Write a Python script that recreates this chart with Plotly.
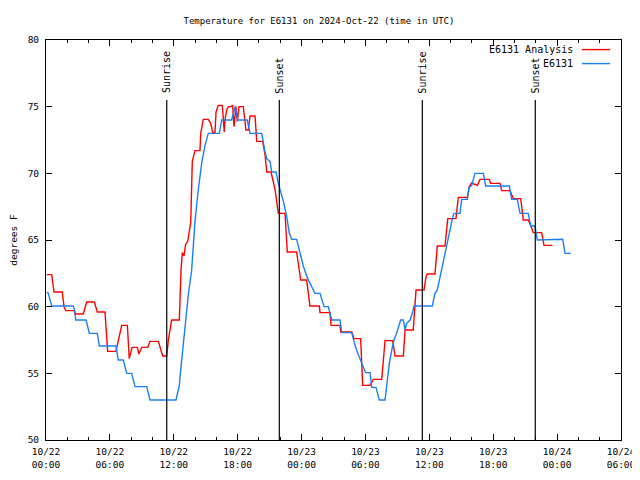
import pandas as pd
import plotly.graph_objects as go

# ---------------- data ----------------
base_time = "2024-10-22 00:00"

# Hours after base_time, and temperature (deg F)
analysis_hours = [0.07, 0.54, 0.75, 1.53, 1.69, 1.85, 2.66, 2.72, 3.50, 3.82, 4.54, 4.82, 5.54, 5.79, 6.57,
                  7.11, 7.64, 7.82, 8.08, 8.57, 8.73, 8.99, 9.55, 9.77, 10.55, 10.96, 11.34, 11.49, 11.80,
                  12.52, 12.68, 12.80, 12.96, 13.12, 13.31, 13.59, 13.74, 13.83, 13.99, 14.46, 14.53, 14.77,
                  15.24, 15.47, 15.66, 15.87, 15.97, 16.18, 16.56, 16.74, 16.81, 16.97, 17.12, 17.37, 17.53,
                  17.66, 17.75, 17.84, 17.97, 18.13, 18.53, 18.69, 18.78, 19.00, 19.16, 19.63, 19.79, 20.35,
                  20.57, 20.73, 21.13, 21.51, 21.72, 21.82, 22.45, 22.66, 23.54, 23.69, 23.92, 24.48, 24.63,
                  24.79, 25.67, 25.73, 26.67, 26.77, 27.61, 27.68, 28.71, 28.93, 29.55, 29.74, 30.43, 30.74,
                  31.53, 31.68, 31.84, 32.56, 32.78, 33.56, 33.72, 34.49, 34.75, 35.50, 35.69, 35.81, 36.53,
                  36.75, 37.47, 37.73, 38.50, 38.72, 39.57, 39.75, 39.98, 40.19, 40.51, 40.76, 41.63, 41.76,
                  42.64, 42.80, 43.58, 43.89, 44.58, 44.83, 45.29, 45.52, 45.76, 46.55, 46.77, 47.55]
analysis_temp = [62.4, 62.4, 61.1, 61.1, 60.0, 59.7, 59.7, 59.45, 59.45, 60.35, 60.35, 59.6, 59.6, 56.65, 56.65,
                 58.6, 58.6, 56.1, 56.95, 56.95, 56.45, 56.95, 56.95, 57.4, 57.4, 56.3, 56.3, 57.5, 59.0,
                 59.0, 62.75, 64.05, 63.8, 64.7, 64.9, 66.3, 70.9, 71.25, 71.7, 71.7, 73.0, 74.05,
                 74.05, 73.75, 73.05, 73.05, 74.6, 75.1, 75.1, 73.1, 74.0, 74.75, 75.0, 75.0, 75.1,
                 73.5, 74.1, 75.0, 73.9, 75.0, 75.0, 73.9, 73.25, 73.25, 74.3, 74.3, 72.4, 72.4,
                 71.4, 70.1, 70.1, 68.8, 67.6, 67.0, 67.0, 64.1, 64.1, 63.1, 62.0, 62.0, 61.0,
                 60.05, 60.05, 59.55, 59.55, 58.6, 58.6, 58.1, 58.1, 57.6, 57.6, 54.1, 54.1, 54.55,
                 54.55, 56.25, 57.45, 57.45, 56.3, 56.3, 58.25, 58.25, 61.25, 61.25, 62.25, 62.45, 62.45,
                 64.55, 64.55, 66.6, 66.6, 68.2, 68.2, 69.0, 69.3, 69.2, 69.1, 69.55, 69.55, 69.25,
                 69.25, 68.7, 68.7, 68.1, 68.1, 66.5, 66.5, 66.1, 65.55, 65.55, 64.6, 64.6]

station_hours = [0.07, 0.19, 0.54, 2.56, 2.70, 2.79, 3.76, 4.07, 4.82, 5.01, 6.57, 6.79, 7.26, 7.58, 8.05,
                 8.36, 9.46, 9.77, 12.21, 12.52, 12.68, 13.06, 13.38, 13.68, 13.99, 14.30, 14.62, 14.93,
                 15.24, 16.28, 16.50, 17.44, 17.75, 18.00, 18.90, 19.16, 20.26, 20.57, 20.73, 21.04, 21.20,
                 21.60, 21.82, 22.29, 22.61, 22.85, 23.07, 23.54, 23.85, 24.16, 24.58, 24.95, 25.26, 25.73,
                 26.11, 26.51, 26.83, 27.61, 27.77, 28.71, 29.02, 29.33, 29.55, 29.80, 30.02, 30.43, 30.59,
                 30.99, 31.30, 31.84, 32.05, 32.24, 32.47, 32.68, 32.94, 33.18, 33.31, 33.56, 33.72, 33.87,
                 34.19, 34.44, 34.56, 36.28, 36.53, 36.75, 36.94, 37.16, 37.47, 37.78, 37.94, 38.19, 38.32,
                 38.88, 39.04, 39.57, 39.73, 39.98, 40.29, 41.07, 41.29, 43.51, 43.73, 44.26, 44.52, 45.29,
                 45.52, 45.92, 46.14, 47.59, 47.65, 48.53, 48.74, 49.28]
station_temp = [61.05, 61.05, 60.05, 60.05, 59.7, 59.0, 59.0, 58.0, 58.0, 57.05, 57.05, 56.0, 56.0, 55.0, 55.0,
                54.0, 54.0, 53.0, 53.0, 54.1, 55.5, 58.5, 61.0, 62.75, 66.4, 68.75, 70.75, 72.1,
                73.0, 73.0, 74.0, 74.0, 75.0, 74.0, 74.0, 73.0, 73.0, 71.6, 71.1, 70.9, 70.1,
                70.1, 69.25, 67.9, 66.75, 65.5, 65.05, 65.05, 64.0, 63.05, 62.1, 61.5, 61.0, 61.0,
                60.0, 60.0, 59.0, 59.0, 58.05, 58.05, 57.1, 56.4, 55.95, 55.4, 55.05, 55.05, 53.95,
                53.95, 53.0, 53.0, 54.5, 55.75, 56.75, 57.5, 58.05, 58.6, 59.0, 59.0, 58.25, 58.75,
                59.0, 59.6, 60.05, 60.05, 61.0, 61.25, 62.0, 62.75, 63.9, 65.25, 65.75, 66.7, 67.0,
                67.0, 68.05, 68.05, 68.95, 69.1, 70.0, 70.0, 69.05, 69.05, 68.05, 68.05, 67.0, 67.0,
                66.05, 66.05, 65.0, 65.0, 65.05, 65.05, 64.0, 64.0]

sun_event_hours = [11.34, 21.91, 35.34, 45.95]
sun_event_labels = ["Sunrise", "Sunset", "Sunrise", "Sunset"]

x_tick_values = ["2024-10-22 00:00", "2024-10-22 06:00", "2024-10-22 12:00", "2024-10-22 18:00",
                 "2024-10-23 00:00", "2024-10-23 06:00", "2024-10-23 12:00", "2024-10-23 18:00",
                 "2024-10-24 00:00", "2024-10-24 06:00"]
x_tick_labels = ["10/22<br>00:00", "10/22<br>06:00", "10/22<br>12:00", "10/22<br>18:00",
                 "10/23<br>00:00", "10/23<br>06:00", "10/23<br>12:00", "10/23<br>18:00",
                 "10/24<br>00:00", "10/24<br>06:00"]
y_tick_values = [50, 55, 60, 65, 70, 75, 80]

series_names = ["E6131 Analysis", "E6131"]
series_colors = ["#ff0000", "#1a80f0"]

# ---------------- figure ----------------
t0 = pd.Timestamp(base_time)
def to_time(hours):
    return [t0 + pd.Timedelta(hours=h) for h in hours]

FONT = "DejaVu Sans Mono"
FS = 9
W, H = 632, 472   # page body has an 8px margin
fig = go.Figure()
fig.add_trace(go.Scatter(x=to_time(analysis_hours), y=analysis_temp, mode="lines",
                         line=dict(color=series_colors[0], width=1.4), name=series_names[0]))
fig.add_trace(go.Scatter(x=to_time(station_hours), y=station_temp, mode="lines",
                         line=dict(color=series_colors[1], width=1.4), name=series_names[1]))

for h, lab in zip(sun_event_hours, sun_event_labels):
    t = t0 + pd.Timedelta(hours=h)
    fig.add_shape(type="line", xref="x", yref="y", x0=t, x1=t, y0=50, y1=75.5,
                  line=dict(color="black", width=1.2))
    fig.add_annotation(x=t, y=75.85, xref="x", yref="y", text=lab, textangle=-90,
                       showarrow=False, xanchor="center", yanchor="bottom",
                       font=dict(family=FONT, size=10, color="black"))

# manual gnuplot-style legend (text then line sample)
legend_rows = [0.976, 0.941]
for name, col, yy in zip(series_names, series_colors, legend_rows):
    fig.add_annotation(x=0.92, y=yy, xref="paper", yref="paper", text=name, showarrow=False,
                       xanchor="right", yanchor="middle", font=dict(family=FONT, size=10, color="black"))
    fig.add_shape(type="line", xref="paper", yref="paper", x0=0.932, x1=0.981, y0=yy, y1=yy,
                  line=dict(color=col, width=1.4))

fig.update_layout(
    width=W, height=H,
    margin=dict(l=38, r=W - 613, t=32, b=H - 432, autoexpand=False),
    paper_bgcolor="white", plot_bgcolor="white",
    showlegend=False,
    font=dict(family=FONT, size=FS, color="black"),
    title=dict(text="Temperature for E6131 on 2024-Oct-22 (time in UTC)", x=(319 - 8) / W, xanchor="center",
               xref="container", y=1 - 12.5/H, yanchor="middle", font=dict(family=FONT, size=FS)),
)
fig.update_xaxes(
    type="date", range=[t0, t0 + pd.Timedelta(hours=54)], automargin=False,
    tickvals=x_tick_values, ticktext=x_tick_labels,
    ticks="inside", ticklen=6, tickcolor="black", tickwidth=1, ticklabelstandoff=3,
    minor=dict(dtick=2 * 3600 * 1000, ticks="inside", ticklen=3, tickcolor="black", showgrid=False),
    showline=True, linecolor="black", linewidth=1, mirror="allticks",
    showgrid=False, zeroline=False, tickfont=dict(family=FONT, size=9.5),
)
fig.update_yaxes(
    range=[50, 80], tickvals=y_tick_values, automargin=False,
    ticks="inside", ticklen=6, tickcolor="black", tickwidth=1, ticklabelstandoff=4,
    showline=True, linecolor="black", linewidth=1, mirror="allticks",
    showgrid=False, zeroline=False, tickfont=dict(family=FONT, size=9.5),
    title=dict(text="degrees F", font=dict(family=FONT, size=9.5), standoff=16),
)

fig.write_html("out.html")
